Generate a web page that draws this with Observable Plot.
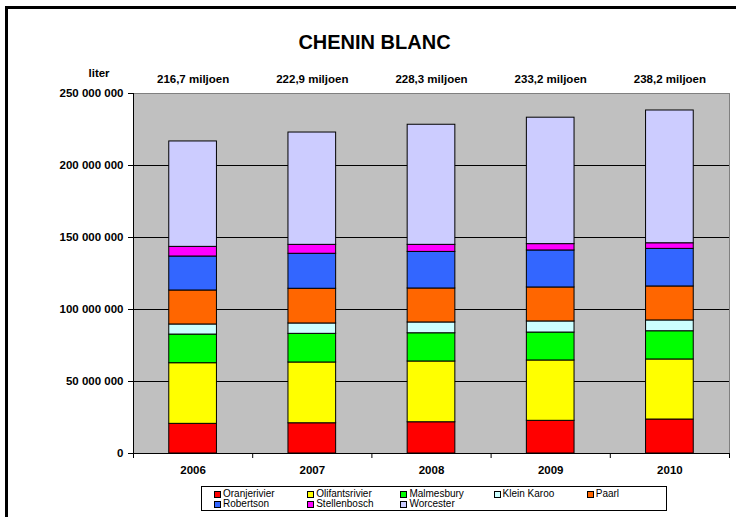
<!DOCTYPE html>
<html>
<head>
<meta charset="utf-8">
<script src="https://cdn.jsdelivr.net/npm/d3@7"></script>
<script src="https://cdn.jsdelivr.net/npm/@observablehq/plot@0.6"></script>
<style>
  html, body { margin: 0; padding: 0; background: #fff; }
  #wrap { position: relative; width: 736px; height: 517px; overflow: hidden; font-family: "Liberation Sans", Arial, sans-serif; }
  #border { position: absolute; left: 5px; top: 6px; width: 740px; height: 540px; border-top: 3px solid #000; border-left: 3px solid #000; pointer-events: none; }
  #title { position: relative; height: 60px; }
  #title span { position: absolute; left: 0; width: 749px; top: 32px; text-align: center; font-size: 20px; line-height: 20px; font-weight: bold; color: #000; }
  #legend { position: absolute; left: 201px; top: 486px; width: 464px; height: 23px; border: 1px solid #000; background: #fff; box-sizing: content-box; }
  #legend .grid { position: absolute; left: 12px; top: 2px; display: grid; grid-template-columns: repeat(5, 93.2px); grid-auto-rows: 10px; }
  #legend .item { display: flex; align-items: center; font-size: 10px; line-height: 10px; color: #000; white-space: nowrap; }
  #legend .sw { width: 5px; height: 5px; border: 1px solid #000; margin-right: 2px; flex: none; }
</style>
</head>
<body>
<div id="wrap">
  <div id="title"><span>CHENIN BLANC</span></div>
  <div id="chart"></div>
  <div id="legend"><div class="grid"></div></div>
  <div id="border"></div>
</div>
<script>
// ---- data (values in litres) ----
const years = ["2006", "2007", "2008", "2009", "2010"];
const totalLabels = ["216,7 miljoen", "222,9 miljoen", "228,3 miljoen", "233,2 miljoen", "238,2 miljoen"];
const regions = ["Oranjerivier", "Olifantsrivier", "Malmesbury", "Klein Karoo", "Paarl", "Robertson", "Stellenbosch", "Worcester"];
const regionColors = ["#FF0000", "#FFFF00", "#00FF00", "#CCFFFF", "#FF6600", "#3366FF", "#FF00FF", "#CCCCFF"];

const oranjerivier   = [20.6e6, 21.0e6, 21.7e6, 22.7e6, 23.6e6];
const olifantsrivier = [42.1e6, 42.2e6, 42.2e6, 41.9e6, 41.7e6];
const malmesbury     = [19.9e6, 19.9e6, 19.6e6, 19.4e6, 19.6e6];
const kleinKaroo     = [7.0e6, 7.2e6, 7.5e6, 7.7e6, 7.5e6];
const paarl          = [23.6e6, 24.1e6, 23.6e6, 23.6e6, 23.6e6];
const robertson      = [23.6e6, 24.3e6, 25.4e6, 25.7e6, 26.1e6];
const stellenbosch   = [6.7e6, 6.2e6, 4.9e6, 4.4e6, 3.9e6];
const worcester      = [73.2e6, 78.0e6, 83.4e6, 87.8e6, 92.2e6];

const yTicks = [0, 50e6, 100e6, 150e6, 200e6, 250e6];

// ---- build stacked table ----
const seriesList = [oranjerivier, olifantsrivier, malmesbury, kleinKaroo, paarl, robertson, stellenbosch, worcester];
const rows = [];
years.forEach((year, i) => {
  let cum = 0;
  regions.forEach((region, k) => {
    const v = seriesList[k][i];
    rows.push({i, year, region, y1: cum, y2: cum + v});
    cum += v;
  });
});

const fmt = v => d3.format(",")(v).replace(/,/g, " ");

const chart = Plot.plot({
  width: 736,
  height: 420,
  marginLeft: 133,
  marginRight: 7,
  marginTop: 33,
  marginBottom: 27,
  style: {fontFamily: "'Liberation Sans', Arial, sans-serif", fontSize: "11.5px", fontWeight: "bold", color: "#000", background: "transparent"},
  x: {domain: [0, years.length], axis: null},
  y: {domain: [0, 250e6], axis: null},
  color: {domain: regions, range: regionColors},
  marks: [
    Plot.frame({fill: "#C0C0C0", stroke: "#808080"}),
    Plot.ruleY(yTicks.slice(0, -1), {stroke: "#000", strokeWidth: 1}),
    Plot.ruleX([0], {stroke: "#000"}),
    Plot.rect(rows, {x1: d => d.i + 0.3, x2: d => d.i + 0.7, y1: "y1", y2: "y2", fill: "region", stroke: "#000", strokeWidth: 1}),
    Plot.axisY({ticks: yTicks, tickSize: 5, tickPadding: 5, tickFormat: fmt, label: null}),
    Plot.axisX({ticks: d3.range(0, years.length + 1), tickSize: 5, tickFormat: () => "", label: null}),
    Plot.text(years, {x: (d, i) => i + 0.5, frameAnchor: "bottom", dy: 20, text: d => d}),
    Plot.text(totalLabels, {x: (d, i) => i + 0.5, y: () => 250e6, dy: -14, text: d => d}),
    Plot.text(["liter"], {frameAnchor: "top-left", dx: -45, dy: -25, text: d => d})
  ]
});
document.getElementById("chart").appendChild(chart);

// ---- legend ----
const legendOrder = ["Oranjerivier", "Olifantsrivier", "Malmesbury", "Klein Karoo", "Paarl", "Robertson", "Stellenbosch", "Worcester"];
const grid = document.querySelector("#legend .grid");
legendOrder.forEach(name => {
  const item = document.createElement("div");
  item.className = "item";
  const sw = document.createElement("span");
  sw.className = "sw";
  sw.style.background = regionColors[regions.indexOf(name)];
  item.appendChild(sw);
  item.appendChild(document.createTextNode(name));
  grid.appendChild(item);
});
</script>
</body>
</html>
